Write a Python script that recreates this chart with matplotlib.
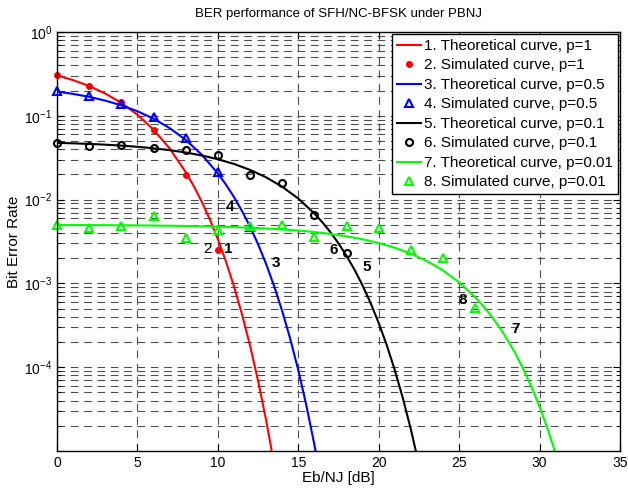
import matplotlib
matplotlib.use('Agg')
import matplotlib.pyplot as plt
import numpy as np
from matplotlib.ticker import FixedLocator, LogLocator, NullFormatter

plt.rcParams['font.family'] = ['Liberation Sans', 'DejaVu Sans']

# theoretical curves (1 dB steps, 0.5 dB where steep)
th_x1 = [0, 1, 2, 3, 4, 5, 6, 7, 8, 8.5, 9, 9.5, 10, 10.5, 11, 11.5, 12,
         12.5, 13, 13.5]
th_p1 = [0.3033, 0.2664, 0.2264, 0.1844, 0.1424, 0.1029, 0.0683, 0.0408,
         0.02132, 0.01451, 0.00942, 0.005804, 0.00337, 0.001831, 0.000923,
         0.0004283, 0.000181, 6.87e-5, 2.33e-5, 6.9e-6]
th_x05 = [0, 1, 2, 3, 4, 5, 6, 7, 8, 9, 10, 10.5, 11, 11.5, 12, 12.5, 13,
          13.5, 14, 14.5, 15, 15.5, 16, 16.5]
th_p05 = [0.1947, 0.1825, 0.1682, 0.1518, 0.1334, 0.1134, 0.0924, 0.0714,
          0.0516, 0.0343, 0.02052, 0.01513, 0.01074, 0.007317, 0.00476,
          0.002933, 0.001705, 0.0009268, 0.000468, 0.0002177, 9.22e-5,
          3.51e-5, 1.19e-5, 3.54e-6]
th_x01 = [0, 1, 2, 3, 4, 5, 6, 7, 8, 9, 10, 11, 12, 13, 14, 15, 16, 16.5,
          17, 17.5, 18, 18.5, 19, 19.5, 20, 20.5, 21, 21.5, 22, 22.5]
th_p01 = [0.04756, 0.04695, 0.04619, 0.04525, 0.04410, 0.04269, 0.04097,
          0.03892, 0.03647, 0.03361, 0.03033, 0.02664, 0.02264, 0.01844,
          0.01424, 0.01029, 0.00683, 0.005358, 0.00408, 0.003006, 0.00213,
          0.001451, 0.000942, 0.0005804, 0.000337, 0.0001831, 9.23e-5,
          4.283e-5, 1.81e-5, 6.87e-6]
th_x001 = [0, 1, 2, 3, 4, 5, 6, 7, 8, 9, 10, 11, 12, 13, 14, 15, 16, 17,
           18, 19, 20, 21, 22, 23, 24, 25, 26, 26.5, 27, 27.5, 28, 28.5, 29,
           29.5, 30, 30.5, 31, 31.5]
th_p001 = [0.004975, 0.004969, 0.004960, 0.004950, 0.004937, 0.004921,
           0.004901, 0.004875, 0.004843, 0.004802, 0.004756, 0.004695,
           0.004619, 0.004525, 0.004410, 0.004269, 0.004097, 0.003892,
           0.003647, 0.003361, 0.003033, 0.002664, 0.002264, 0.001844,
           0.001424, 0.001029, 0.000683, 0.0005358, 0.000408, 0.0003006,
           0.000213, 0.0001451, 9.42e-5, 5.804e-5, 3.37e-5, 1.831e-5,
           9.23e-6, 4.283e-6]

# simulated points
sim_x1 = [0, 2, 4, 6, 8, 10]
sim_p1 = [0.306, 0.226, 0.1445, 0.0675, 0.0196, 0.0025]
sim_x05 = [0, 2, 4, 6, 8, 10, 12]
sim_p05 = [0.199, 0.172, 0.137, 0.0957, 0.0546, 0.0211, 0.0047]
sim_x01 = [0, 2, 4, 6, 8, 10, 12, 14, 16, 18]
sim_p01 = [0.0468, 0.0434, 0.0443, 0.0408, 0.0395, 0.034, 0.0196, 0.0158,
           0.00664, 0.0023]
sim_x001 = [0, 2, 4, 6, 8, 10, 12, 14, 16, 18, 20, 22, 24, 26]
sim_p001 = [0.00494, 0.00452, 0.00481, 0.00634, 0.00352, 0.00439, 0.00481,
            0.00494, 0.00359, 0.00481, 0.00452, 0.00248, 0.00203, 0.000514]

# curve number labels
lab_txt = ['2', '1', '4', '3', '6', '5', '8', '7']
lab_x = [9.36, 10.64, 10.77, 13.58, 17.23, 19.25, 25.23, 28.48]
lab_y = [0.0026, 0.00254, 0.00818, 0.00173, 0.00248, 0.00157, 0.000628, 0.000288]

fig = plt.figure(figsize=(6.28, 4.93), dpi=100)
ax = fig.add_axes([57/628, 1-451/493, (620-57)/628, (451-32)/493])

ax.semilogy(th_x1, th_p1, 'r-', lw=1.5, label='1. Theoretical curve, p=1')
ax.semilogy(sim_x1, sim_p1, 'r.', ms=8, clip_on=False,
            label='2. Simulated curve, p=1')
ax.semilogy(th_x05, th_p05, 'b-', lw=1.5, label='3. Theoretical curve, p=0.5')
ax.semilogy(sim_x05, sim_p05, 'b^', ms=6, mfc='none', mew=1.5, clip_on=False,
            label='4. Simulated curve, p=0.5')
ax.semilogy(th_x01, th_p01, 'k-', lw=1.5, label='5. Theoretical curve, p=0.1')
ax.semilogy(sim_x01, sim_p01, 'ko', ms=5, mfc='none', mew=1.5, clip_on=False,
            label='6. Simulated curve, p=0.1')
ax.semilogy(th_x001, th_p001, '-', color='#00ff00', lw=1.5,
            label='7. Theoretical curve, p=0.01')
ax.semilogy(sim_x001, sim_p001, '^', color='#00ff00', ms=6, mfc='none',
            mew=1.5, clip_on=False, label='8. Simulated curve, p=0.01')

for t, x, y in zip(lab_txt, lab_x, lab_y):
    w = 'normal' if t == '2' else 'bold'
    ax.text(x, y, t, fontsize=11, fontweight=w, ha='center', va='center')

ax.set_xlim(0, 35)
ax.set_ylim(1e-5, 1)
ax.xaxis.set_major_locator(FixedLocator(np.arange(0, 36, 5)))
ax.yaxis.set_major_locator(FixedLocator([1e-4, 1e-3, 1e-2, 1e-1, 1]))
ax.yaxis.set_minor_locator(LogLocator(base=10, subs=np.arange(2, 10), numticks=20))
ax.yaxis.set_minor_formatter(NullFormatter())
ax.tick_params(which='both', direction='in', top=True, right=True, labelsize=10)
ax.tick_params(which='major', length=5)
ax.tick_params(which='minor', length=3)

ax.grid(True, which='both', axis='y', ls=(0, (7, 5)), color='0.3', lw=0.8)
ax.grid(True, which='major', axis='x', ls=(0, (7, 5)), color='0.3', lw=0.8)
for s in ax.spines.values():
    s.set_linewidth(1.0)

ax.set_xlabel('Eb/NJ [dB]', fontsize=11, labelpad=1)
ax.set_ylabel('Bit Error Rate', fontsize=11, labelpad=2)
ax.set_title('BER performance of SFH/NC-BFSK under PBNJ', fontsize=9.5, pad=11)

leg = ax.legend(loc='upper right', fontsize=11, fancybox=False, framealpha=1,
                edgecolor='k', handlelength=1.6, handletextpad=0.2,
                borderpad=0.3, labelspacing=0.36, borderaxespad=0.15)
leg.get_frame().set_linewidth(1.0)

fig.savefig('out.png', dpi=100)
